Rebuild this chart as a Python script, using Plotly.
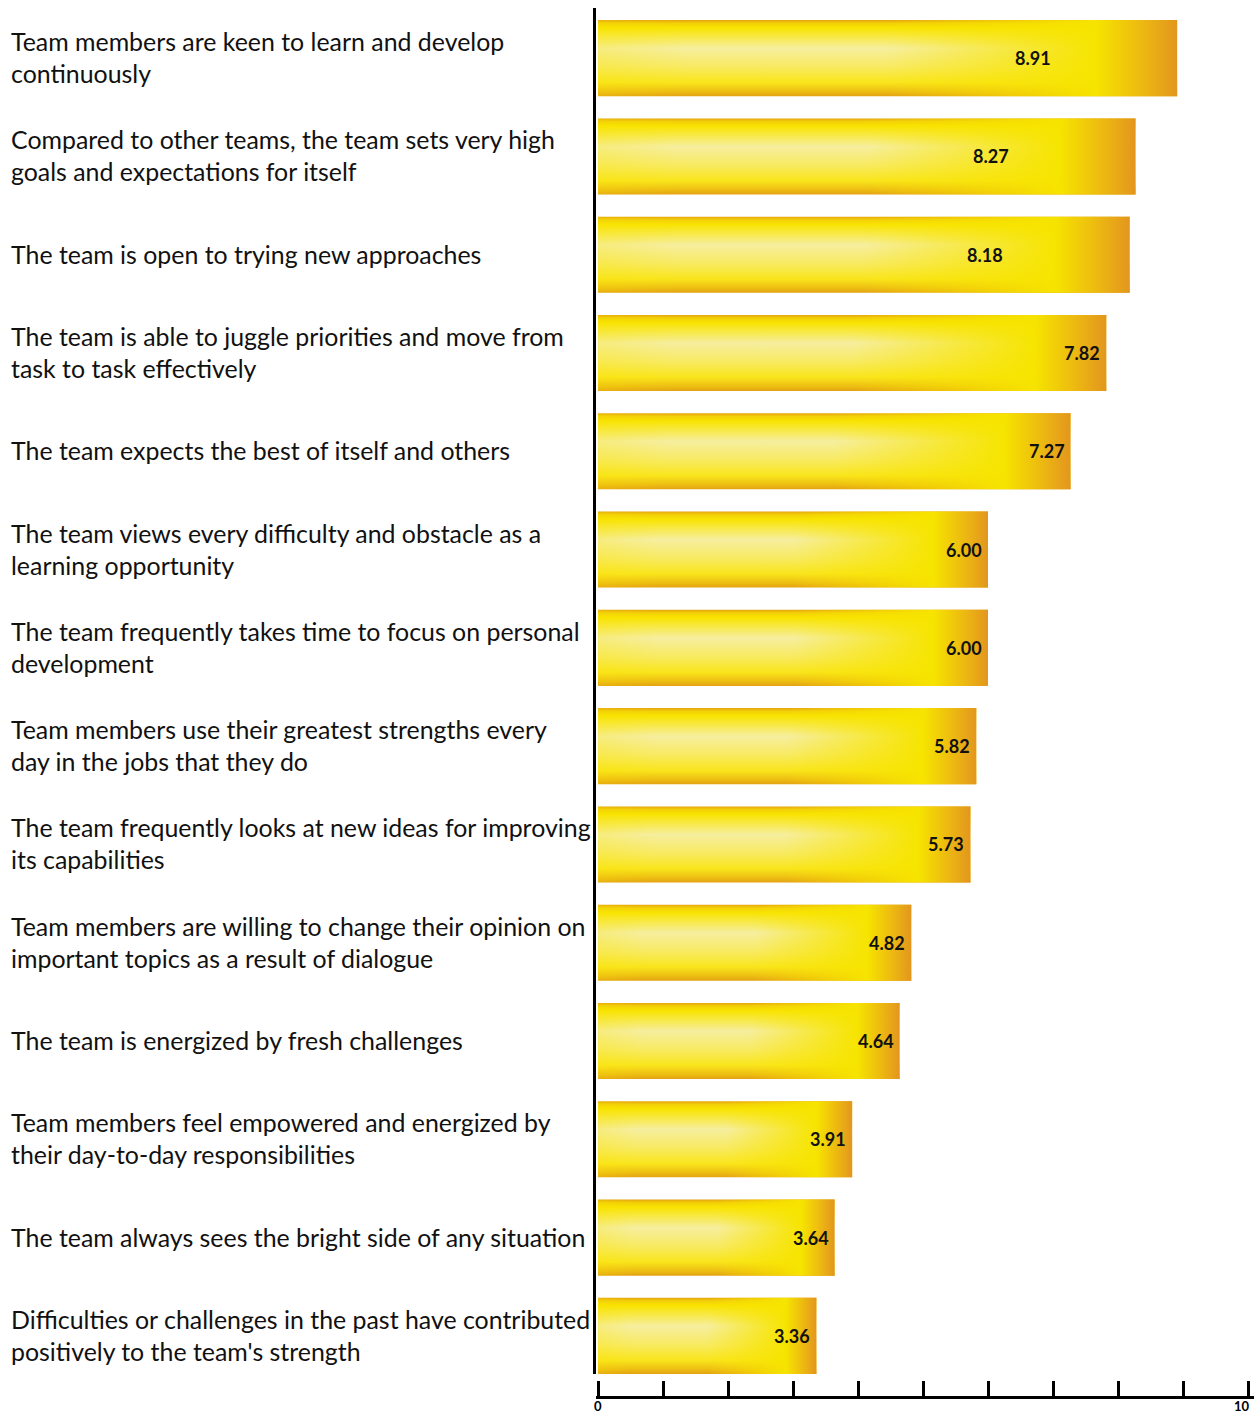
import plotly.graph_objects as go

categories = [
    "Team members are keen to learn and develop<br>continuously",
    "Compared to other teams, the team sets very high<br>goals and expectations for itself",
    "The team is open to trying new approaches",
    "The team is able to juggle priorities and move from<br>task to task effectively",
    "The team expects the best of itself and others",
    "The team views every difficulty and obstacle as a<br>learning opportunity",
    "The team frequently takes time to focus on personal<br>development",
    "Team members use their greatest strengths every<br>day in the jobs that they do",
    "The team frequently looks at new ideas for improving<br>its capabilities",
    "Team members are willing to change their opinion on<br>important topics as a result of dialogue",
    "The team is energized by fresh challenges",
    "Team members feel empowered and energized by<br>their day-to-day responsibilities",
    "The team always sees the bright side of any situation",
    "Difficulties or challenges in the past have contributed<br>positively to the team's strength",
]
values = [8.91, 8.27, 8.18, 7.82, 7.27, 6.00, 6.00, 5.82, 5.73, 4.82, 4.64, 3.91, 3.64, 3.36]
tick_vals = list(range(0, 11))
label_ticks = [0, 10]
label_text = ["0", "10"]

H = 0.387  # half bar thickness (category units)
PX_PER_UNIT = 65.0
X_MIN = -2 / PX_PER_UNIT
X_MAX = 10 + 6 / PX_PER_UNIT

vertical_scale = [
    [0.0, "#e3a214"],
    [0.06, "#edbd12"],
    [0.18, "#f9e51c"],
    [0.38, "#f8ea60"],
    [0.63, "#f6ee9f"],
    [0.8, "#f8e83a"],
    [0.9, "#f8e300"],
    [0.96, "#f2cf08"],
    [1.0, "#e5a40f"],
]
horizontal_scale = [
    [0.0, "rgba(249,228,0,0.2)"],
    [0.15, "rgba(249,228,0,0.0)"],
    [0.5, "rgba(249,228,0,0.0)"],
    [0.86, "rgba(246,228,0,1)"],
    [0.93, "rgba(238,190,15,1)"],
    [1.0, "rgba(227,150,30,1)"],
]

fig = go.Figure()
for i, v in enumerate(values):
    xs = [0, v, v, 0, 0]
    ys = [i - H, i - H, i + H, i + H, i - H]
    fig.add_trace(go.Scatter(
        x=xs, y=ys, mode="lines", fill="toself", line=dict(width=0),
        fillgradient=dict(type="vertical", colorscale=vertical_scale),
        hoverinfo="skip", showlegend=False))
    fig.add_trace(go.Scatter(
        x=xs, y=ys, mode="lines", fill="toself", line=dict(width=0),
        fillgradient=dict(type="horizontal", colorscale=horizontal_scale),
        hoverinfo="skip", showlegend=False))

annotations = []
for i, (c, v) in enumerate(zip(categories, values)):
    annotations.append(dict(
        x=0, xref="paper", xshift=-587, y=i, yref="y", text=c, showarrow=False,
        xanchor="left", yanchor="middle", align="left", yshift=1,
        font=dict(family="Lato", size=24.9, color="#111111")))
    lx = v - 2.22 if v > 8 else v - 0.37
    annotations.append(dict(
        x=lx, xref="x", y=i, yref="y", text=f"<b>{v:.2f}</b>", showarrow=False,
        xanchor="center", yanchor="middle",
        font=dict(family="Lato", size=18, color="#111111", weight=900)))

for tv, tt in zip(label_ticks, label_text):
    annotations.append(dict(
        x=tv, xref="x", y=0, yref="paper", text=f"<b>{tt}</b>", showarrow=False,
        xanchor="center" if tv == 0 else "right", xshift=0 if tv == 0 else 3,
        yanchor="middle", yshift=-8.5, borderpad=0,
        font=dict(family="Lato", size=13, color="black")))

fig.update_layout(
    width=1255, height=1414,
    margin=dict(l=596, r=1, t=8, b=17, autoexpand=False),
    paper_bgcolor="white", plot_bgcolor="white",
    annotations=annotations,
    xaxis=dict(range=[X_MIN, X_MAX], tickvals=tick_vals, showticklabels=False,
               ticks="inside", ticklen=15, tickwidth=2.5, tickcolor="black",
               showline=True, linewidth=3, linecolor="black", showgrid=False,
               zeroline=False, anchor="free", position=0, automargin=False),
    yaxis=dict(range=[13 + H, -0.51], domain=[0.0166, 1], showticklabels=False,
               ticks="", showline=True, linewidth=3, linecolor="black",
               showgrid=False, zeroline=False, automargin=False),
)

fig.write_html(
    "out.html",
    config={"displayModeBar": False},
    post_script="document.body.style.margin='0';document.body.style.overflow='hidden';",
)
